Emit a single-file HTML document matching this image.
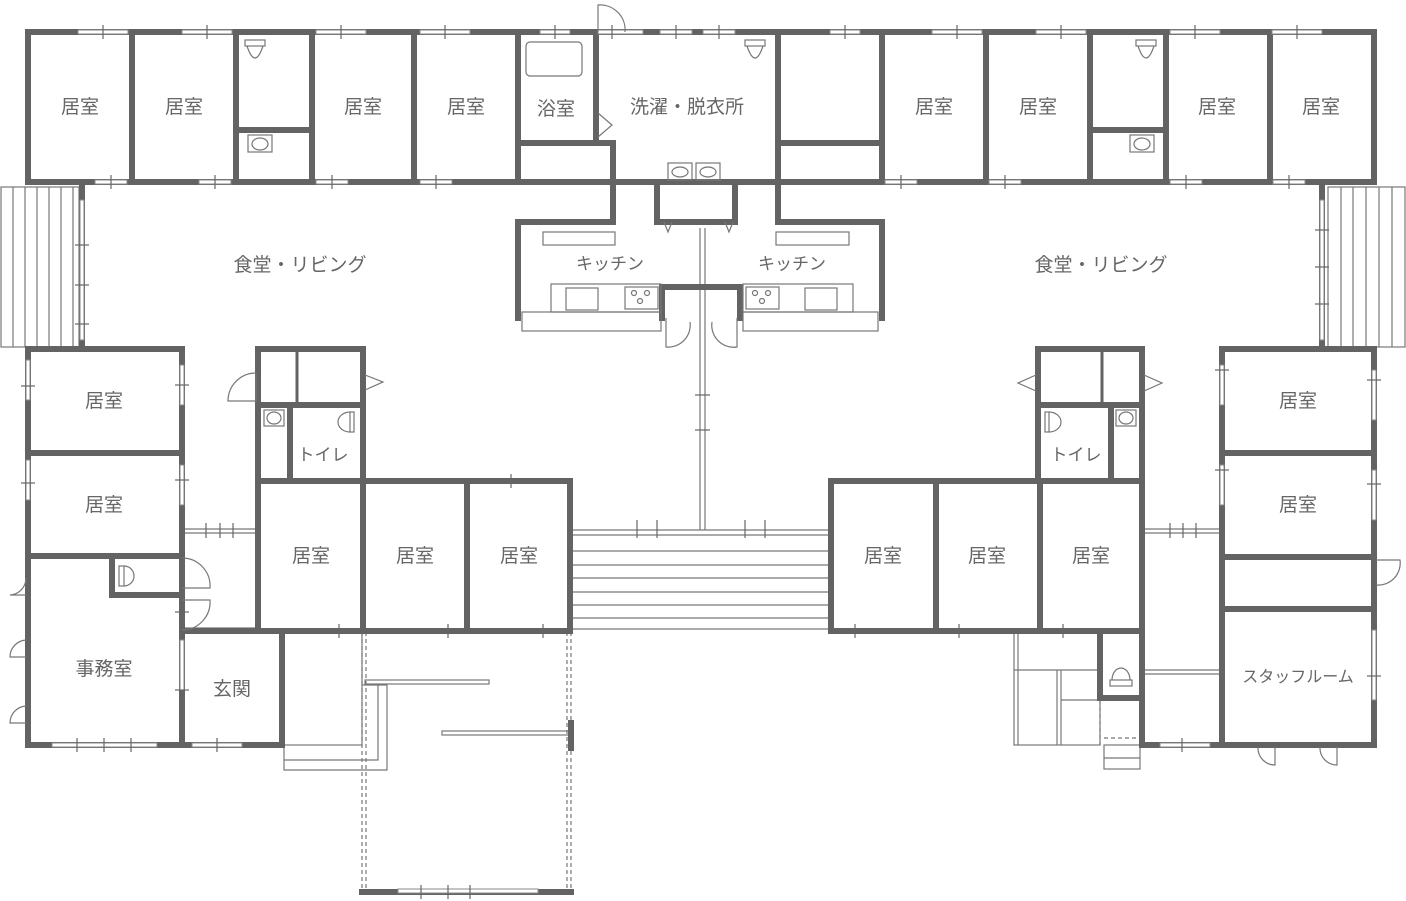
<!DOCTYPE html>
<html><head><meta charset="utf-8"><style>
html,body{margin:0;padding:0;background:#fff;}
svg{display:block}
text{font-family:"Liberation Sans","Noto Sans CJK JP",sans-serif;font-size:19px;fill:#666;text-anchor:middle;dominant-baseline:middle}
.w{stroke:#636363;stroke-width:6;fill:none;stroke-linecap:square}
.t{stroke:#777;stroke-width:1.2;fill:none}
.d{stroke:#777;stroke-width:1.2;fill:none;stroke-dasharray:4 3}
.win{fill:#fff;stroke:#888;stroke-width:1}
.x{stroke:#666;stroke-width:1.2}
</style></head><body>
<svg width="1406" height="901" viewBox="0 0 1406 901" xmlns="http://www.w3.org/2000/svg">
<g class="t">
<rect x="1" y="187" width="78" height="160"/>
<line x1="13" y1="187" x2="13" y2="347"/><line x1="25" y1="187" x2="25" y2="347"/><line x1="37" y1="187" x2="37" y2="347"/><line x1="49" y1="187" x2="49" y2="347"/><line x1="61" y1="187" x2="61" y2="347"/><line x1="73" y1="187" x2="73" y2="347"/>
<rect x="1328" y="187" width="77" height="160"/>
<line x1="1341" y1="187" x2="1341" y2="347"/><line x1="1353" y1="187" x2="1353" y2="347"/><line x1="1366" y1="187" x2="1366" y2="347"/><line x1="1379" y1="187" x2="1379" y2="347"/><line x1="1392" y1="187" x2="1392" y2="347"/>
<line x1="571" y1="530" x2="830" y2="530"/><line x1="571" y1="535" x2="830" y2="535"/>
<line x1="571" y1="551" x2="830" y2="551"/><line x1="571" y1="565" x2="830" y2="565"/><line x1="571" y1="578" x2="830" y2="578"/><line x1="571" y1="592" x2="830" y2="592"/><line x1="571" y1="605" x2="830" y2="605"/><line x1="571" y1="618" x2="830" y2="618"/><line x1="571" y1="629" x2="830" y2="629"/>
<line x1="700" y1="228" x2="700" y2="530"/><line x1="705" y1="228" x2="705" y2="530"/>
<line x1="182" y1="529" x2="258" y2="529"/><line x1="182" y1="533" x2="258" y2="533"/>
<line x1="182" y1="628" x2="258" y2="628"/><line x1="182" y1="632" x2="258" y2="632"/>
<line x1="1142" y1="529" x2="1222" y2="529"/><line x1="1142" y1="533" x2="1222" y2="533"/>
<line x1="1142" y1="670" x2="1222" y2="670"/><line x1="1142" y1="674" x2="1222" y2="674"/>
<rect x="284" y="632" width="78" height="113"/>
<polyline points="284,745 284,770 387,770 387,685 362,685"/>
<polyline points="284,760 378,760 378,685"/>
<rect x="365" y="680" width="124" height="4"/>
<rect x="442" y="731" width="128" height="4"/>
<rect x="1014" y="632" width="86" height="113"/>
<line x1="1018" y1="632" x2="1018" y2="745"/>
<line x1="1014" y1="670" x2="1100" y2="670"/>
<line x1="1057" y1="670" x2="1057" y2="745"/><line x1="1061" y1="670" x2="1061" y2="745"/>
<line x1="1061" y1="700" x2="1100" y2="700"/>
<rect x="1104" y="745" width="36" height="24"/><line x1="1104" y1="758" x2="1140" y2="758"/>
</g>
<g class="d">
<line x1="362" y1="632" x2="362" y2="892"/><line x1="366" y1="632" x2="366" y2="892"/>
<line x1="571" y1="632" x2="571" y2="892"/><line x1="567" y1="632" x2="567" y2="892"/>
<line x1="1100" y1="700" x2="1100" y2="745"/><line x1="1104" y1="738" x2="1140" y2="738"/>
</g>
<g class="w">
<line x1="28" y1="32" x2="1374" y2="32"/>
<line x1="28" y1="182" x2="1374" y2="182"/>
<line x1="28" y1="32" x2="28" y2="182"/><line x1="132" y1="32" x2="132" y2="182"/><line x1="236" y1="32" x2="236" y2="182"/><line x1="312" y1="32" x2="312" y2="182"/><line x1="414" y1="32" x2="414" y2="182"/><line x1="518" y1="32" x2="518" y2="182"/>
<line x1="596" y1="32" x2="596" y2="140"/>
<line x1="778" y1="32" x2="778" y2="222"/><line x1="882" y1="32" x2="882" y2="182"/><line x1="986" y1="32" x2="986" y2="182"/><line x1="1090" y1="32" x2="1090" y2="182"/><line x1="1166" y1="32" x2="1166" y2="182"/><line x1="1270" y1="32" x2="1270" y2="182"/><line x1="1374" y1="32" x2="1374" y2="182"/>
<line x1="236" y1="130" x2="312" y2="130"/><line x1="1090" y1="130" x2="1166" y2="130"/>
<line x1="518" y1="143" x2="613" y2="143"/>
<line x1="778" y1="143" x2="882" y2="143"/>
<polyline points="613,143 613,222 518,222 518,318"/>
<polyline points="778,222 882,222 882,318"/>
<polyline points="657,182 657,222 735,222 735,182"/>
<polyline points="662,318 662,287 740,287 740,318"/>
<line x1="82" y1="182" x2="82" y2="347"/>
<line x1="1322" y1="182" x2="1322" y2="347"/>
<line x1="28" y1="349" x2="182" y2="349"/>
<line x1="28" y1="349" x2="28" y2="745"/>
<line x1="182" y1="349" x2="182" y2="745"/>
<line x1="28" y1="453" x2="182" y2="453"/><line x1="28" y1="556" x2="182" y2="556"/>
<polyline points="182,595 112,595 112,556"/>
<line x1="28" y1="745" x2="282" y2="745"/>
<line x1="282" y1="631" x2="282" y2="745"/>
<line x1="182" y1="631" x2="282" y2="631"/>
<polyline points="258,631 258,349 363,349 363,481"/>
<line x1="258" y1="405" x2="363" y2="405"/>
<line x1="290" y1="405" x2="290" y2="481"/>
<line x1="258" y1="481" x2="570" y2="481"/><line x1="258" y1="631" x2="570" y2="631"/>
<line x1="570" y1="481" x2="570" y2="631"/><line x1="363" y1="481" x2="363" y2="631"/><line x1="467" y1="481" x2="467" y2="631"/>
<line x1="362" y1="892" x2="571" y2="892"/>
<line x1="571" y1="723" x2="571" y2="748"/>
<line x1="831" y1="481" x2="1142" y2="481"/><line x1="831" y1="631" x2="1142" y2="631"/>
<line x1="831" y1="481" x2="831" y2="631"/><line x1="936" y1="481" x2="936" y2="631"/><line x1="1040" y1="481" x2="1040" y2="631"/>
<polyline points="1038,481 1038,349 1142,349 1142,745"/>
<line x1="1038" y1="405" x2="1142" y2="405"/>
<line x1="1111" y1="405" x2="1111" y2="481"/>
<polyline points="1100,631 1100,698 1142,698"/>
<line x1="1222" y1="349" x2="1374" y2="349"/>
<line x1="1222" y1="349" x2="1222" y2="745"/><line x1="1374" y1="349" x2="1374" y2="745"/>
<line x1="1222" y1="453" x2="1374" y2="453"/><line x1="1222" y1="557" x2="1374" y2="557"/><line x1="1222" y1="609" x2="1374" y2="609"/>
<line x1="1142" y1="745" x2="1374" y2="745"/>
</g>
<g class="w" style="stroke-width:3">
<line x1="297" y1="349" x2="297" y2="405"/><line x1="1102" y1="349" x2="1102" y2="405"/>
</g>
<g class="win">
<rect x="78" y="30" width="50" height="4"/><rect x="182" y="30" width="50" height="4"/><rect x="316" y="30" width="50" height="4"/><rect x="420" y="30" width="50" height="4"/><rect x="540" y="30" width="30" height="4"/><rect x="598" y="30" width="45" height="4"/><rect x="660" y="30" width="32" height="4"/><rect x="703" y="30" width="32" height="4"/><rect x="830" y="30" width="30" height="4"/><rect x="932" y="30" width="50" height="4"/><rect x="1036" y="30" width="50" height="4"/><rect x="1170" y="30" width="50" height="4"/><rect x="1272" y="30" width="50" height="4"/>
<rect x="95" y="180" width="32" height="4"/><rect x="199" y="180" width="32" height="4"/><rect x="316" y="180" width="32" height="4"/><rect x="420" y="180" width="32" height="4"/><rect x="885" y="180" width="32" height="4"/><rect x="989" y="180" width="32" height="4"/><rect x="1170" y="180" width="32" height="4"/><rect x="1273" y="180" width="32" height="4"/>
<rect x="80" y="200" width="4" height="140"/><rect x="1320" y="200" width="4" height="140"/>
<rect x="52" y="743" width="105" height="4"/><rect x="192" y="743" width="50" height="4"/>
<rect x="1160" y="743" width="50" height="4"/>
<rect x="398" y="889" width="140" height="4"/>
<rect x="180" y="365" width="4" height="40"/><rect x="180" y="465" width="4" height="40"/><rect x="180" y="640" width="4" height="50"/>
<rect x="1220" y="365" width="4" height="40"/><rect x="1220" y="465" width="4" height="40"/><rect x="1372" y="370" width="4" height="50"/><rect x="1372" y="470" width="4" height="50"/><rect x="1372" y="630" width="4" height="70"/>
<rect x="26" y="360" width="4" height="40"/><rect x="26" y="460" width="4" height="40"/>
</g>
<g class="x">
<line x1="103" y1="25" x2="103" y2="39"/><line x1="207" y1="25" x2="207" y2="39"/><line x1="341" y1="25" x2="341" y2="39"/><line x1="445" y1="25" x2="445" y2="39"/><line x1="555" y1="25" x2="555" y2="39"/><line x1="612" y1="25" x2="612" y2="39"/><line x1="676" y1="25" x2="676" y2="39"/><line x1="719" y1="25" x2="719" y2="39"/><line x1="845" y1="25" x2="845" y2="39"/><line x1="957" y1="25" x2="957" y2="39"/><line x1="1061" y1="25" x2="1061" y2="39"/><line x1="1195" y1="25" x2="1195" y2="39"/><line x1="1297" y1="25" x2="1297" y2="39"/>
<line x1="111" y1="175" x2="111" y2="189"/><line x1="215" y1="175" x2="215" y2="189"/><line x1="332" y1="175" x2="332" y2="189"/><line x1="436" y1="175" x2="436" y2="189"/><line x1="901" y1="175" x2="901" y2="189"/><line x1="1005" y1="175" x2="1005" y2="189"/><line x1="1186" y1="175" x2="1186" y2="189"/><line x1="1289" y1="175" x2="1289" y2="189"/>
<line x1="75" y1="245" x2="89" y2="245"/><line x1="75" y1="285" x2="89" y2="285"/><line x1="75" y1="324" x2="89" y2="324"/>
<line x1="1315" y1="230" x2="1329" y2="230"/><line x1="1315" y1="267" x2="1329" y2="267"/><line x1="1315" y1="304" x2="1329" y2="304"/>
<line x1="77" y1="738" x2="77" y2="752"/><line x1="104" y1="738" x2="104" y2="752"/><line x1="131" y1="738" x2="131" y2="752"/><line x1="217" y1="738" x2="217" y2="752"/><line x1="1182" y1="738" x2="1182" y2="752"/>
<line x1="421" y1="885" x2="421" y2="899"/><line x1="448" y1="885" x2="448" y2="899"/><line x1="470" y1="885" x2="470" y2="899"/>
<line x1="511" y1="474" x2="511" y2="488"/><line x1="448" y1="624" x2="448" y2="638"/><line x1="339" y1="624" x2="339" y2="638"/><line x1="543" y1="624" x2="543" y2="638"/>
<line x1="855" y1="624" x2="855" y2="638"/><line x1="959" y1="624" x2="959" y2="638"/><line x1="1063" y1="624" x2="1063" y2="638"/>
<line x1="175" y1="385" x2="189" y2="385"/><line x1="175" y1="480" x2="189" y2="480"/><line x1="175" y1="612" x2="189" y2="612"/><line x1="175" y1="690" x2="189" y2="690"/>
<line x1="1215" y1="370" x2="1229" y2="370"/><line x1="1215" y1="470" x2="1229" y2="470"/><line x1="1367" y1="380" x2="1381" y2="380"/><line x1="1367" y1="484" x2="1381" y2="484"/><line x1="1367" y1="676" x2="1381" y2="676"/>
<line x1="21" y1="386" x2="35" y2="386"/><line x1="21" y1="483" x2="35" y2="483"/>
<line x1="206" y1="523" x2="206" y2="538"/><line x1="220" y1="523" x2="220" y2="538"/><line x1="233" y1="523" x2="233" y2="538"/>
<line x1="1170" y1="523" x2="1170" y2="538"/><line x1="1183" y1="523" x2="1183" y2="538"/><line x1="1196" y1="523" x2="1196" y2="538"/>
<line x1="637" y1="520" x2="637" y2="538"/><line x1="657" y1="520" x2="657" y2="538"/><line x1="745" y1="520" x2="745" y2="538"/><line x1="765" y1="520" x2="765" y2="538"/>
<line x1="695" y1="395" x2="710" y2="395"/><line x1="695" y1="430" x2="710" y2="430"/>
</g>
<g class="t">
<rect x="526" y="42" width="56" height="34" rx="4"/>
<rect x="245" y="40" width="20" height="6"/><path d="M247 46 Q255 70 263 46"/>
<rect x="1136" y="40" width="20" height="6"/><path d="M1138 46 Q1146 70 1154 46"/>
<rect x="745" y="40" width="20" height="6"/><path d="M747 46 Q755 70 763 46"/>
<rect x="248" y="135" width="24" height="17"/><ellipse cx="260" cy="144" rx="8" ry="6"/>
<rect x="1130" y="135" width="24" height="17"/><ellipse cx="1142" cy="144" rx="8" ry="6"/>
<rect x="668" y="163" width="24" height="17"/><rect x="696" y="163" width="24" height="17"/>
<ellipse cx="680" cy="172" rx="8" ry="5"/><ellipse cx="708" cy="172" rx="8" ry="5"/>
<rect x="543" y="232" width="72" height="13"/><rect x="776" y="232" width="73" height="13"/>
<rect x="551" y="284" width="110" height="28"/><rect x="522" y="312" width="139" height="19"/>
<rect x="566" y="288" width="32" height="22"/><rect x="625" y="287" width="33" height="22"/>
<rect x="743" y="284" width="110" height="28"/><rect x="743" y="312" width="135" height="19"/>
<rect x="746" y="287" width="33" height="22"/><rect x="805" y="288" width="32" height="22"/>
<circle cx="634" cy="293" r="2.5"/><circle cx="647" cy="293" r="2.5"/><circle cx="640" cy="301" r="2.5"/>
<circle cx="755" cy="293" r="2.5"/><circle cx="768" cy="293" r="2.5"/><circle cx="762" cy="301" r="2.5"/>
<path d="M598 32 L598 5 A25 25 0 0 1 625 32"/>
<path d="M598 113 L612 125 L598 137"/>
<path d="M664 222 L668 232 L672 222 M725 222 L729 232 L733 222"/>
<path d="M228 401 A28 28 0 0 1 256 373 L256 401 Z"/>
<path d="M365 375 L383 382 L365 390"/>
<path d="M1036 375 L1018 383 L1036 391"/>
<path d="M1144 375 L1162 383 L1144 391"/>
<path d="M182 558 A28 28 0 0 1 210 588 L182 588"/>
<path d="M182 630 A28 28 0 0 0 210 600 L182 600"/>
<path d="M26 578 A17 17 0 0 1 10 595 L26 595 M26 640 A17 17 0 0 0 10 657 L26 657 M26 706 A17 17 0 0 0 10 723 L26 723"/>
<path d="M666 318 L666 347 A22 22 0 0 0 690 322"/>
<path d="M737 318 L737 347 A22 22 0 0 1 712 322"/>
<path d="M1376 560 L1400 560 A22 22 0 0 1 1376 585"/>
<path d="M1258 747 A17 17 0 0 0 1275 765 L1275 747 M1320 747 A17 17 0 0 0 1337 765 L1337 747"/>
<rect x="119" y="566" width="5" height="20"/><path d="M124 566 A10 10 0 0 1 124 586"/>
<rect x="350" y="412" width="4" height="20"/><path d="M350 412 A12 10 0 0 0 350 432"/>
<rect x="1045" y="412" width="4" height="20"/><path d="M1049 412 A12 10 0 0 1 1049 432"/>
<rect x="1110" y="680" width="22" height="6"/><path d="M1112 680 A9 12 0 0 1 1130 680"/>
<rect x="264" y="410" width="20" height="16"/><ellipse cx="274" cy="418" rx="7" ry="6"/>
<rect x="1116" y="410" width="20" height="16"/><ellipse cx="1126" cy="418" rx="7" ry="6"/>
</g>
<text x="80" y="108">居室</text><text x="184" y="108">居室</text><text x="363" y="108">居室</text><text x="466" y="108">居室</text>
<text x="556" y="110">浴室</text><text x="687" y="108">洗濯・脱衣所</text>
<text x="934" y="108">居室</text><text x="1038" y="108">居室</text><text x="1217" y="108">居室</text><text x="1321" y="108">居室</text>
<text x="300" y="266">食堂・リビング</text><text x="1101" y="266">食堂・リビング</text>
<text x="610" y="265" style="font-size:17px">キッチン</text><text x="792" y="265" style="font-size:17px">キッチン</text>
<text x="104" y="402">居室</text><text x="104" y="506">居室</text><text x="104" y="670">事務室</text><text x="232" y="690">玄関</text>
<text x="323" y="456" style="font-size:17px">トイレ</text><text x="1076" y="456" style="font-size:17px">トイレ</text>
<text x="311" y="557">居室</text><text x="415" y="557">居室</text><text x="519" y="557">居室</text>
<text x="883" y="557">居室</text><text x="987" y="557">居室</text><text x="1091" y="557">居室</text>
<text x="1298" y="402">居室</text><text x="1298" y="506">居室</text>
<text x="1298" y="678" style="font-size:16px">スタッフルーム</text>
</svg>
</body></html>
